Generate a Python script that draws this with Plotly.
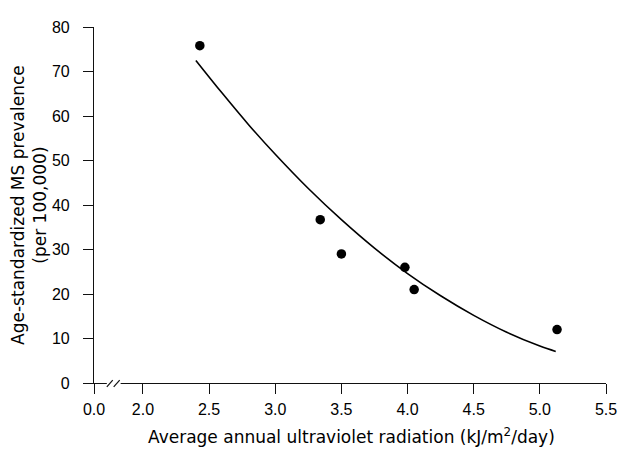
import plotly.graph_objects as go

# Observed data points (average annual UV radiation, MS prevalence)
uv_points = [2.43, 3.34, 3.50, 3.98, 4.05, 5.13]
prevalence_points = [75.8, 36.7, 29.0, 26.0, 21.0, 12.0]

# Fitted curve
curve_uv = [2.40, 2.60, 2.80, 3.00, 3.25, 3.50, 3.75, 4.00, 4.25, 4.50, 4.75, 5.00, 5.12]
curve_prev = [72.5, 65.1, 58.0, 51.4, 43.7, 36.7, 30.3, 24.6, 19.6, 15.2, 11.4, 8.3, 7.1]

# Broken x axis: the "0.0" tick sits at the axis origin
x_tick_values = [1.63, 2.0, 2.5, 3.0, 3.5, 4.0, 4.5, 5.0, 5.5]
x_tick_labels = ["0.0", "2.0", "2.5", "3.0", "3.5", "4.0", "4.5", "5.0", "5.5"]
y_tick_values = [0, 10, 20, 30, 40, 50, 60, 70, 80]

TICK_FONT = dict(family="Liberation Sans, Arial, sans-serif", size=16, color="#000")
TITLE_FONT = dict(family="DejaVu Sans, sans-serif", size=17, color="#000")

fig = go.Figure()
fig.add_trace(go.Scatter(x=curve_uv, y=curve_prev, mode="lines",
                         line=dict(color="#000", width=1.6, shape="spline"),
                         showlegend=False, hoverinfo="skip"))
fig.add_trace(go.Scatter(x=uv_points, y=prevalence_points, mode="markers",
                         marker=dict(color="#000", size=9.5),
                         showlegend=False))

# The page body has an 8px margin; size the figure so the plot lands where
# the reference has it in the 628x449 window.
OFF = 8
W, H = 628 - OFF, 449 - OFF
L, R, T, B = 94 - OFF, 15, 19 - OFF, 66
pw, ph = W - L - R, H - T - B

def px(xp):
    return (xp - OFF - L) / pw

def py(yp):
    return (OFF + H - B - yp) / ph

fig.update_layout(
    width=W, height=H,
    margin=dict(l=L, r=R, t=T, b=B),
    plot_bgcolor="white", paper_bgcolor="white",
    xaxis=dict(range=[x_tick_values[0], x_tick_values[-1]],
               tickmode="array", tickvals=x_tick_values, ticktext=x_tick_labels,
               ticks="outside", ticklen=10, tickwidth=1.2, tickcolor="#111",
               showline=True, linecolor="#111", linewidth=1.2,
               showgrid=False, zeroline=False, tickfont=TICK_FONT,
               ticklabelstandoff=2),
    yaxis=dict(range=[0, 80], tickmode="array", tickvals=y_tick_values,
               ticks="outside", ticklen=10, tickwidth=1.2, tickcolor="#111",
               showline=True, linecolor="#111", linewidth=1.2,
               showgrid=False, zeroline=False, tickfont=TICK_FONT,
               ticklabelstandoff=10),
    annotations=[
        dict(text="Average annual ultraviolet radiation (kJ/m<sup>2</sup>/day)",
             xref="paper", yref="paper", x=px(355), y=py(437),
             xanchor="center", yanchor="middle", showarrow=False, font=TITLE_FONT),
        dict(text="Age-standardized MS prevalence<br>(per 100,000)",
             xref="paper", yref="paper", x=px(28), y=0.5, textangle=-90,
             xanchor="center", yanchor="middle", showarrow=False, font=TITLE_FONT),
    ],
    shapes=[
        dict(type="rect", xref="paper", yref="paper",
             x0=px(107), x1=px(121), y0=py(381.5), y1=py(384.5),
             fillcolor="white", line=dict(width=0)),
        dict(type="line", xref="paper", yref="paper",
             x0=px(107), y0=py(387), x1=px(113), y1=py(380),
             line=dict(color="#111", width=1.2)),
        dict(type="line", xref="paper", yref="paper",
             x0=px(114), y0=py(387), x1=px(120), y1=py(380),
             line=dict(color="#111", width=1.2)),
    ],
)

fig.write_html("out.html")
